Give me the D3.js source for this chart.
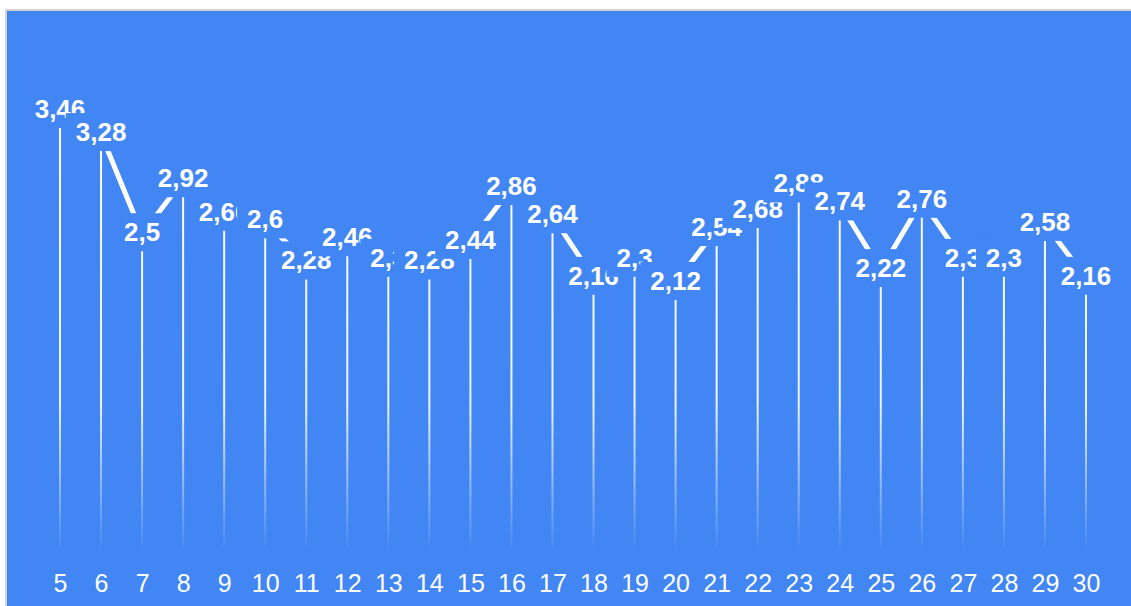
<!DOCTYPE html>
<html>
<head>
<meta charset="utf-8">
<script src="https://cdn.jsdelivr.net/npm/d3@7"></script>
<style>
  body { margin: 0; background: #fff; overflow: hidden; }
  #chart {
    position: absolute; left: 5px; top: 9px;
    width: 1140px; height: 610px;
    border-left: 2px solid #d2d2d2; border-top: 2px solid #d2d2d2;
    background: #4286f4;
  }
  svg { display: block; }
</style>
</head>
<body>
<div id="chart"></div>
<script>
// days of the month and the values shown above each stem
const days = [5, 6, 7, 8, 9, 10, 11, 12, 13, 14, 15, 16, 17, 18, 19, 20, 21, 22, 23, 24, 25, 26, 27, 28, 29, 30];
const values = [3.46, 3.28, 2.5, 2.92, 2.66, 2.6, 2.28, 2.46, 2.3, 2.28, 2.44, 2.86, 2.64, 2.16, 2.3, 2.12, 2.54, 2.68, 2.88, 2.74, 2.22, 2.76, 2.3, 2.3, 2.58, 2.16];

const width = 1140, height = 610;
// chart div is offset by 7/11 px in the page
const ox = 7, oy = 11;
const bg = '#4286f4';

const svg = d3.select('#chart').append('svg')
    .attr('width', width)
    .attr('height', height);

const g = svg.append('g').attr('transform', `translate(${-ox},${-oy})`);

const x = d3.scalePoint()
    .domain(days)
    .range([60, 1086]);

const y = d3.scaleLinear()
    .domain([0, 3.46])
    .range([572, 128]);

const baseY = 552;
const data = days.map((d, i) => ({ day: d, value: values[i] }));
const fmt = v => String(v).replace('.', ',');

// fading gradient for the stems
const grad = svg.append('defs').append('linearGradient')
    .attr('id', 'stemFade')
    .attr('gradientUnits', 'userSpaceOnUse')
    .attr('x1', 0).attr('x2', 0)
    .attr('y1', y(3.46)).attr('y2', baseY);
grad.append('stop').attr('offset', 0).attr('stop-color', '#fff').attr('stop-opacity', 1);
grad.append('stop').attr('offset', 0.65).attr('stop-color', '#fff').attr('stop-opacity', 0.9);
grad.append('stop').attr('offset', 1).attr('stop-color', '#fff').attr('stop-opacity', 0);

// thick connecting line through the label centres
const line = d3.line()
    .x(d => x(d.day))
    .y(d => y(d.value) - 17);

g.append('path')
    .datum(data)
    .attr('fill', 'none')
    .attr('stroke', '#fff')
    .attr('stroke-width', 5)
    .attr('d', line);

// labels with blue boxes, drawn in order so later boxes cover earlier ones
const labels = g.append('g');
data.forEach(d => {
    const lg = labels.append('g');
    const rect = lg.append('rect').attr('fill', bg);
    const t = lg.append('text')
        .attr('x', x(d.day))
        .attr('y', y(d.value) - 10)
        .attr('text-anchor', 'middle')
        .attr('fill', '#fff')
        .style('font', 'bold 26px "Liberation Sans", Arial, sans-serif')
        .text(fmt(d.value));
    const bb = t.node().getBBox();
    rect.attr('x', bb.x - 10)
        .attr('y', bb.y - 4)
        .attr('width', bb.width + 20)
        .attr('height', bb.height + 8);
});

// stems
g.append('g')
    .selectAll('line')
    .data(data)
    .enter().append('line')
    .attr('x1', d => x(d.day))
    .attr('x2', d => x(d.day))
    .attr('y1', d => y(d.value))
    .attr('y2', baseY)
    .attr('stroke', 'url(#stemFade)')
    .attr('stroke-width', 2);

// x axis labels
const xAxis = d3.axisBottom(x).tickSize(0).tickPadding(0);
const ax = g.append('g')
    .attr('transform', 'translate(0,592)')
    .call(xAxis);
ax.select('.domain').remove();
ax.selectAll('text')
    .attr('y', 0)
    .attr('dy', 0)
    .attr('fill', '#fff')
    .style('font', '25px "Liberation Sans", Arial, sans-serif');
</script>
</body>
</html>
